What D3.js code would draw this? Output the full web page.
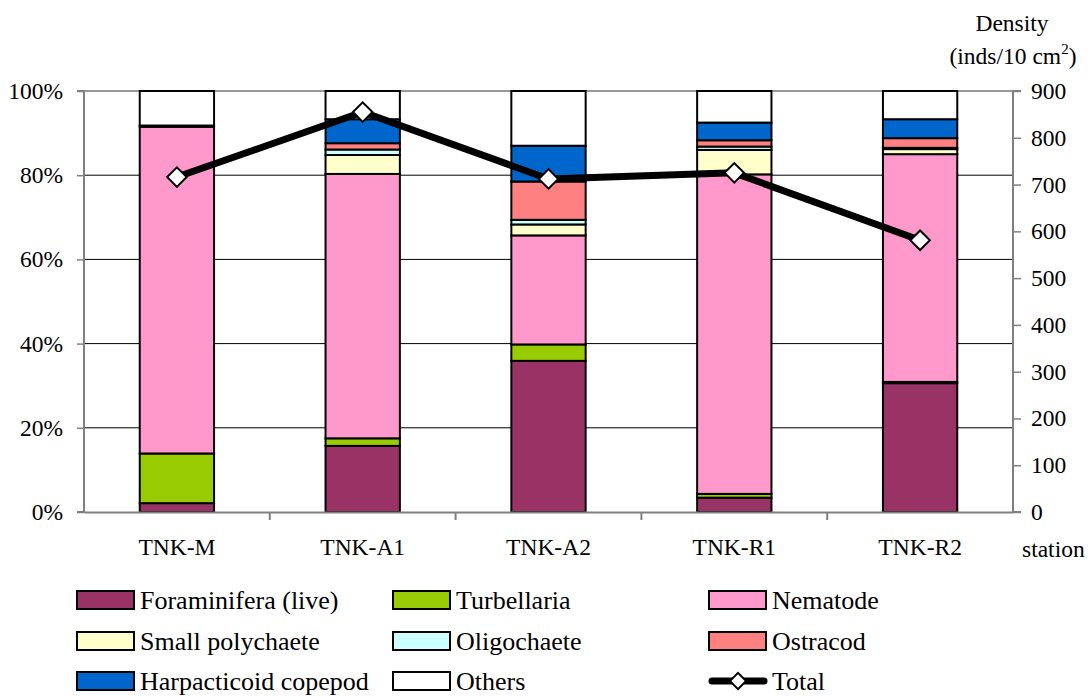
<!DOCTYPE html>
<html>
<head>
<meta charset="utf-8">
<script src="https://cdn.jsdelivr.net/npm/d3@7/dist/d3.min.js"></script>
<style>
  html, body { margin: 0; padding: 0; background: #fff; }
  svg text { font-family: "Liberation Serif", "Times New Roman", serif; fill: #000; }
</style>
</head>
<body>
<svg id="chart" width="1089" height="696"></svg>
<script>
// Stations
const stations = ["TNK-M", "TNK-A1", "TNK-A2", "TNK-R1", "TNK-R2"];

// Relative composition of each taxon per station (%)
const foraminifera = [2.1, 15.7, 35.9, 3.4, 30.6];
const turbellaria  = [11.8, 1.8, 3.9, 0.9, 0.3];
const nematode     = [77.6, 62.8, 25.9, 75.9, 54.1];
const polychaete   = [0.0, 4.5, 2.6, 5.8, 1.2];
const oligochaete  = [0.0, 1.3, 1.1, 0.8, 0.3];
const ostracod     = [0.0, 1.5, 9.1, 1.5, 2.3];
const harpacticoid = [0.3, 5.7, 8.5, 4.2, 4.5];
const others       = [8.2, 6.7, 13.0, 7.5, 6.7];

// Total density (inds/10 cm2)
const totalDensity = [716, 855, 712, 725, 581];

// Axis tick values
const pctTicks = [0, 20, 40, 60, 80, 100];
const densityTicks = [0, 100, 200, 300, 400, 500, 600, 700, 800, 900];

const seriesNames = ["Foraminifera (live)", "Turbellaria", "Nematode", "Small polychaete",
  "Oligochaete", "Ostracod", "Harpacticoid copepod", "Others"];
const seriesValues = [foraminifera, turbellaria, nematode, polychaete,
  oligochaete, ostracod, harpacticoid, others];
const seriesColors = ["#993366", "#99CC00", "#FF99CC", "#FFFFCC",
  "#CCFFFF", "#FF8080", "#0066CC", "#FFFFFF"];

const axisFont = 23.5;
const legendFont = 26;

const svg = d3.select("#chart");
const plotL = 84, plotR = 1013, plotT = 91, plotB = 512;

const x = d3.scaleBand().domain(stations).range([plotL, plotR]).paddingInner(0.6).paddingOuter(0.3);
const xBand = d3.scaleBand().domain(stations).range([plotL, plotR]);
const yPct = d3.scaleLinear().domain([0, 100]).range([plotB, plotT]);
const yDen = d3.scaleLinear().domain([0, 900]).range([plotB, plotT]);

// Horizontal gridlines
svg.append("g").selectAll("line")
  .data(pctTicks.filter(d => d > 0 && d < 100))
  .join("line")
  .attr("x1", plotL).attr("x2", plotR)
  .attr("y1", d => yPct(d)).attr("y2", d => yPct(d))
  .attr("stroke", "#000").attr("stroke-width", 1);
svg.append("line")
  .attr("x1", plotL).attr("x2", plotR)
  .attr("y1", yPct(100)).attr("y2", yPct(100))
  .attr("stroke", "#999").attr("stroke-width", 2);

// Stacked bars
const table = stations.map((s, i) => {
  const row = { station: s };
  seriesNames.forEach((n, k) => { row[n] = seriesValues[k][i]; });
  return row;
});
const stacked = d3.stack().keys(seriesNames)(table);

const barGroups = svg.append("g").selectAll("g")
  .data(stacked)
  .join("g")
  .attr("fill", (d, k) => seriesColors[k]);
barGroups.selectAll("rect")
  .data(d => d)
  .join("rect")
  .attr("x", d => x(d.data.station))
  .attr("width", x.bandwidth())
  .attr("y", d => yPct(d[1]))
  .attr("height", d => Math.max(0, yPct(d[0]) - yPct(d[1])))
  .attr("stroke", "#000")
  .attr("stroke-width", 2);

// Left axis
const gLeft = svg.append("g").attr("transform", `translate(${plotL},0)`)
  .call(d3.axisLeft(yPct).tickValues(pctTicks).tickFormat(d => d + "%").tickSize(7).tickPadding(14));
// Right axis
const gRight = svg.append("g").attr("transform", `translate(${plotR},0)`)
  .call(d3.axisRight(yDen).tickValues(densityTicks).tickSize(8).tickPadding(10));
// Bottom axis with ticks at category boundaries
const gBottom = svg.append("g").attr("transform", `translate(0,${plotB})`)
  .call(d3.axisBottom(x).tickSize(0).tickPadding(26));
gBottom.append("g").selectAll("line")
  .data(stations.slice(1))
  .join("line")
  .attr("x1", d => xBand(d)).attr("x2", d => xBand(d))
  .attr("y1", 0).attr("y2", 8)
  .attr("stroke", "#808080").attr("stroke-width", 2);

[gLeft, gRight, gBottom].forEach(g => {
  g.select(".domain").attr("stroke", "#808080").attr("stroke-width", 2);
  g.selectAll(".tick line").attr("stroke", "#808080").attr("stroke-width", 1.5);
  g.selectAll("text").attr("font-size", axisFont)
    .style("font-family", '"Liberation Serif", "Times New Roman", serif').attr("fill", "#000");
});
gRight.select(".domain").attr("d", `M8,${yDen(900)}H0V${yDen(0)}H8`);
gLeft.select(".domain").attr("d", `M-7,${yPct(100)}H0V${yPct(0)}H-7`);

// Total density line
const lineGen = d3.line()
  .x((d, i) => x(stations[i]) + x.bandwidth() / 2)
  .y(d => yDen(d));
svg.append("path")
  .datum(totalDensity)
  .attr("d", lineGen)
  .attr("fill", "none")
  .attr("stroke", "#000")
  .attr("stroke-width", 7)
  .attr("stroke-linejoin", "round");

svg.append("g").selectAll("path")
  .data(totalDensity)
  .join("path")
  .attr("transform", (d, i) => `translate(${x(stations[i]) + x.bandwidth() / 2},${yDen(d)}) rotate(45)`)
  .attr("d", d3.symbol().type(d3.symbolSquare).size(190))
  .attr("fill", "#fff")
  .attr("stroke", "#000")
  .attr("stroke-width", 2);

// Axis titles
svg.append("text").attr("x", 1012).attr("y", 31).attr("text-anchor", "middle")
  .attr("font-size", axisFont).text("Density");
const unit = svg.append("text").attr("x", 1013).attr("y", 64).attr("text-anchor", "middle")
  .attr("font-size", axisFont);
unit.append("tspan").text("(inds/10 cm");
unit.append("tspan").attr("font-size", 15).attr("dy", -10).text("2");
unit.append("tspan").attr("dy", 10).text(")");
svg.append("text").attr("x", 1022).attr("y", 557).attr("font-size", axisFont).text("station");

// Legend
const legendItems = seriesNames.map((n, k) => ({ name: n, color: seriesColors[k], type: "box" }));
legendItems.push({ name: "Total", type: "line" });
const colX = [77, 393, 709];
const rowY = [600, 641, 681];
const legend = svg.append("g").selectAll("g")
  .data(legendItems)
  .join("g")
  .attr("transform", (d, i) => `translate(${colX[i % 3]},${rowY[Math.floor(i / 3)]})`);
legend.filter(d => d.type === "box").append("rect")
  .attr("x", 0).attr("y", -9).attr("width", 57).attr("height", 18)
  .attr("fill", d => d.color).attr("stroke", "#000").attr("stroke-width", 2);
const lineItem = legend.filter(d => d.type === "line");
lineItem.append("line")
  .attr("x1", 3).attr("x2", 55).attr("y1", 0).attr("y2", 0)
  .attr("stroke", "#000").attr("stroke-width", 7).attr("stroke-linecap", "round");
lineItem.append("path")
  .attr("transform", "translate(29,0) rotate(45)")
  .attr("d", d3.symbol().type(d3.symbolSquare).size(130))
  .attr("fill", "#fff").attr("stroke", "#000").attr("stroke-width", 2);
legend.append("text")
  .attr("x", 63).attr("y", 9)
  .attr("font-size", legendFont)
  .text(d => d.name);
</script>
</body>
</html>
